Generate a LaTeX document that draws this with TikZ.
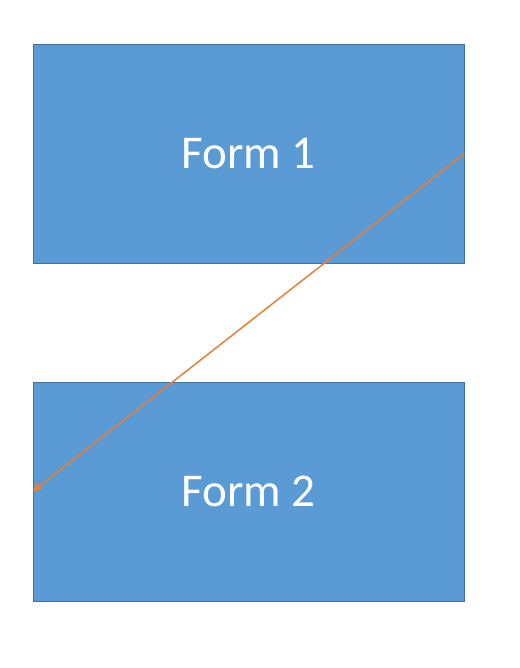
\documentclass[tikz,border=0pt]{standalone}
\usepackage{fontspec}
\setmainfont{Carlito}
\usetikzlibrary{arrows.meta}
\definecolor{form blue}{HTML}{5B9BD5}
\definecolor{form edge}{HTML}{41719C}
\definecolor{link orange}{HTML}{ED7D31}

\begin{document}
\begin{tikzpicture}[x=1pt, y=-1pt,
		formbox/.style={draw=form edge, fill=form blue, line width=0.8pt,
			minimum width=431pt, minimum height=219pt, inner sep=0pt,
			text=white, font=\fontsize{47}{56}\selectfont}]
		\useasboundingbox (0, 0) rectangle (519, 668);
		% the two forms
		\node[formbox] (form1) at (248.5, 153.5) {Form 1};
		\node[formbox] (form2) at (248.5, 491.5) {Form 2};
		% link
		\draw[link orange, line width=1.5pt, -{Triangle[length=9pt, width=8pt]}]
			(form1.east) -- (form2.west);
	\end{tikzpicture}
\end{document}
